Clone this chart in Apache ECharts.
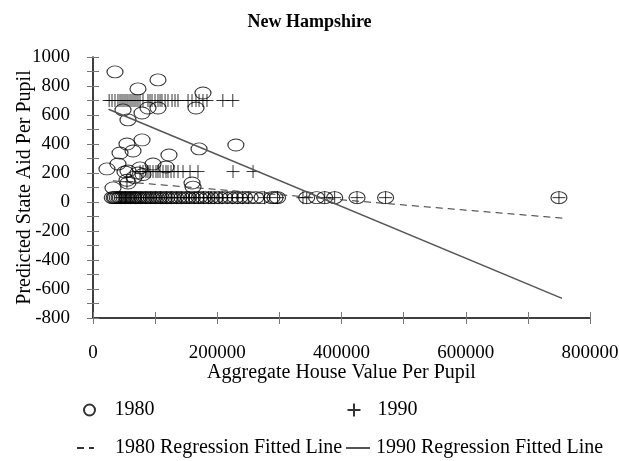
<!DOCTYPE html>
<html>
<head>
<meta charset="utf-8">
<script src="https://cdn.jsdelivr.net/npm/echarts@6/dist/echarts.min.js"></script>
<style>
  html, body { margin: 0; padding: 0; background: #fff; }
  #chart { width: 619px; height: 461px; }
</style>
</head>
<body>
<div id="chart"></div>
<script>
// 1980 predicted aid, off the baseline cluster
var upper1980 = [
  [35400, 897], [104600, 842], [72400, 780], [177000, 752], [48300, 635], [78900, 614],
  [88500, 648], [104600, 648], [165800, 648], [56300, 566], [54700, 400], [78900, 428],
  [43500, 338], [64400, 352], [170700, 366], [230000, 393], [122300, 324], [22500, 228],
  [40200, 262], [96600, 262], [117500, 241], [56300, 214], [75600, 235], [72400, 200],
  [51500, 207], [32200, 97], [56300, 131], [54700, 150], [159400, 131], [161000, 103],
  [66000, 170], [80500, 190]
];
// 1980 points sitting near zero (x only, y below)
var base1980X = [
  31000, 34000, 36000, 39000, 42000, 44000, 47000, 50000, 53000, 55000, 58000, 61000,
  64000, 66000, 69000, 72000, 75000, 79000, 83000, 86000, 90000, 94000, 98000, 102000,
  106000, 110000, 115000, 119000, 124000, 128000, 133000, 138000, 143000, 149000, 154000,
  160000, 166000, 171000, 177000, 183000, 190000, 197000, 204000, 212000, 221000, 229000,
  236000, 244000, 253000, 262000, 272000, 288000, 293000, 297000, 344000, 360000, 373000,
  389000, 425000, 471000, 750000
];
var base1980Y = 30;

// 1990 predicted aid: three bands
var top1990X = [
  26000, 30600, 35400, 40200, 43500, 46700, 49900, 53100, 56300, 59600, 62800, 66000,
  69200, 72400, 75700, 80500, 88500, 91800, 95000, 99800, 104600, 107900, 111000, 116000,
  120700, 127200, 132000, 136800, 153000, 159400, 165800, 170700, 177000, 183500, 209000, 225000
];
var top1990Y = 700;
var mid1990X = [
  75700, 80500, 85300, 88500, 91800, 96600, 101400, 104600, 107900, 112700, 117500,
  120700, 125600, 130400, 136800, 144900, 156200, 169000, 225400, 257600
];
var mid1990Y = 210;
var base1990X = [
  45000, 52000, 60000, 68000, 77000, 85000, 93000, 101000, 109000, 118000, 126000,
  135000, 142000, 150000, 155000, 163000, 170000, 178000, 186000, 190000, 196000, 203000,
  208000, 216000, 224000, 233000, 241000, 250000, 276000, 297000, 338000, 344000, 373000,
  389000, 425000, 471000, 750000
];
var base1990Y = 30;
var extra1990 = [[54700, 140]];

// fitted lines (end points)
var fit1980 = [[32000, 146], [760000, -113]];
var fit1990 = [[25000, 640], [755000, -665]];

var yTicks = { min: -800, max: 1000, step: 100, labelStep: 200 };
var xTicks = { min: 0, max: 800000, step: 100000, labelStep: 200000 };

var points1980 = upper1980.concat(base1980X.map(function (x) { return [x, base1980Y]; }));
var points1990 = top1990X.map(function (x) { return [x, top1990Y]; })
  .concat(mid1990X.map(function (x) { return [x, mid1990Y]; }))
  .concat(base1990X.map(function (x) { return [x, base1990Y]; }))
  .concat(extra1990);

var font = '"Liberation Serif", "Times New Roman", serif';
var plusPath = 'path://M0,6H12M6,0V12';

// main x axis: line + labels; second one only carries ticks crossing the line
var xMain = {
  type: 'value', min: xTicks.min, max: xTicks.max, interval: xTicks.step,
  position: 'bottom',
  name: 'Aggregate House Value Per Pupil',
  nameLocation: 'middle', nameGap: 45, nameMoveOverlap: false,
  nameTextStyle: { fontFamily: font, fontSize: 20, color: '#000' },
  axisLine: { onZero: false, lineStyle: { color: '#000', width: 1.5 } },
  axisTick: { show: false },
  axisLabel: {
    margin: 26, fontFamily: font, fontSize: 19, color: '#000',
    formatter: function (v) { return v % xTicks.labelStep === 0 ? String(v) : ''; }
  },
  splitLine: { show: false }
};
var xTickAxis = {
  type: 'value', min: xTicks.min, max: xTicks.max, interval: xTicks.step,
  position: 'bottom', offset: -6,
  axisLine: { show: false, onZero: false },
  axisTick: { show: true, length: 12, lineStyle: { color: '#777' } },
  axisLabel: { show: false },
  splitLine: { show: false }
};
var yMain = {
  type: 'value', min: yTicks.min, max: yTicks.max, interval: yTicks.step,
  position: 'left',
  name: 'Predicted State Aid Per Pupil',
  nameLocation: 'middle', nameGap: 58, nameRotate: 90, nameMoveOverlap: false,
  nameTextStyle: { fontFamily: font, fontSize: 20, color: '#000' },
  axisLine: { onZero: false, lineStyle: { color: '#000', width: 1.5 } },
  axisTick: { show: true, length: 6, lineStyle: { color: '#777' } },
  axisLabel: {
    margin: 23, fontFamily: font, fontSize: 19, color: '#000',
    formatter: function (v) { return v % yTicks.labelStep === 0 ? String(v) : ''; }
  },
  splitLine: { show: false }
};
var yTickAxis = {
  type: 'value', min: yTicks.min, max: yTicks.max, interval: yTicks.step,
  position: 'left',
  axisLine: { show: false, onZero: false },
  axisTick: { show: true, inside: true, length: 6, lineStyle: { color: '#777' } },
  axisLabel: { show: false },
  splitLine: { show: false }
};

function legendAt(name, left, top, w, h, isLine, textPad) {
  var lg = {
    data: [name], left: left, top: top, itemWidth: w, itemHeight: h,
    textStyle: { fontFamily: font, fontSize: 20, color: '#000', padding: [0, 0, 0, textPad] },
    selectedMode: false
  };
  if (isLine) lg.itemStyle = { opacity: 0 };
  return lg;
}

var chart = echarts.init(document.getElementById('chart'));
chart.setOption({
  animation: false,
  backgroundColor: '#fff',
  title: {
    text: 'New Hampshire', left: 'center', top: 8,
    textStyle: { fontFamily: font, fontSize: 18, fontWeight: 'bold', color: '#000' }
  },
  grid: { left: 93, right: 29, top: 57, bottom: 143, outerBoundsMode: 'none' },
  xAxis: [xMain, xTickAxis],
  yAxis: [yMain, yTickAxis],
  legend: [
    legendAt('1980', 78, 395, 12, 11, false, 14),
    legendAt('1990', 340, 395, 13, 13, false, 12),
    legendAt('1980 Regression Fitted Line', 71, 433, 17, 10, true, 16),
    legendAt('1990 Regression Fitted Line', 340, 433, 24, 10, true, 1)
  ],
  series: [
    {
      name: '1980', type: 'scatter', data: points1980,
      symbol: 'circle', symbolSize: [16, 12],
      itemStyle: { color: 'rgba(0,0,0,0)', borderColor: '#000', borderWidth: 1 },
      emphasis: { disabled: true }
    },
    {
      name: '1990', type: 'scatter', data: points1990,
      symbol: plusPath, symbolSize: 13,
      itemStyle: { color: 'none', borderColor: '#000', borderWidth: 1 },
      emphasis: { disabled: true }
    },
    {
      name: '1980 Regression Fitted Line', type: 'line', data: fit1980,
      symbol: 'none', silent: true, color: '#333',
      itemStyle: { color: '#333' },
      lineStyle: { color: '#333', width: 1, type: [7, 5] }
    },
    {
      name: '1990 Regression Fitted Line', type: 'line', data: fit1990,
      symbol: 'none', silent: true, color: '#555',
      itemStyle: { color: '#555' },
      lineStyle: { color: '#555', width: 1.5 }
    }
  ]
});
</script>
</body>
</html>
